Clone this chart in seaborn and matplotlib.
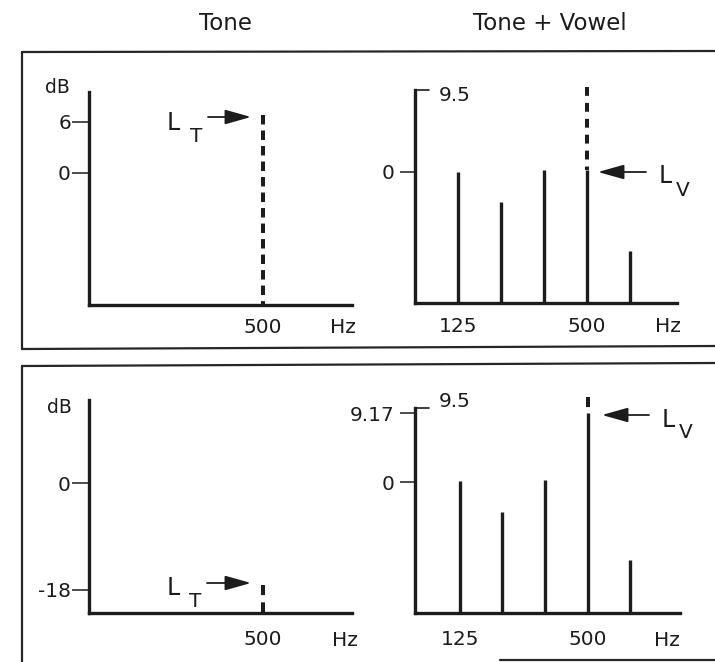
import matplotlib
matplotlib.use("Agg")
import matplotlib.pyplot as plt
import seaborn as sns
from matplotlib.lines import Line2D

sns.set_theme(style="white")
plt.rcParams['font.family'] = ['DejaVu Sans']
plt.rcParams['axes.unicode_minus'] = False

# ---------------- data ----------------
panel_titles = ["Tone", "Tone + Vowel"]
harmonic_freqs = [125, 250, 375, 500, 625]          # Hz
vowel_levels_top = [0.0, -3.5, 0.2, 0.2, -9.2]      # dB
vowel_levels_bottom = [0.1, -4.0, 0.3, 9.17, -10.3] # dB
tone_freq = 500                                     # Hz
tone_level_top = 6.8                                # dB (tone alone, top row)
tone_level_bottom = -17.2                           # dB (tone alone, bottom row)
tone_plus_vowel_top = 9.8                           # dB (dashed extension, top row)
tone_plus_vowel_bottom = 11.3                       # dB (dashed extension, bottom row)
yticks_tone_top = [0, 6]
yticks_tone_bottom = [-18, 0]
yticks_vowel_top = [0]
yticks_vowel_bottom = [0, 9.17]
ytick_labels_vowel_bottom = ["0", "9.17"]
xticks_tone = [500]
xticks_vowel = [125, 500]
axis_top_label = "9.5"

W, H = 715, 662
INK = "#1c1c1c"
fig = plt.figure(figsize=(W / 100, H / 100), dpi=100)
fig.patch.set_facecolor("white")


def px_rect(x0, y0, x1, y1):
    return [x0 / W, 1 - y1 / H, (x1 - x0) / W, (y1 - y0) / H]


def fp(x, y):
    return (x / W, 1 - y / H)


def style_axes(ax, ytick_len, ytick_pad, xpad):
    ax.set_facecolor("none")
    sns.despine(ax=ax, top=True, right=True)
    for s in ("left", "bottom"):
        ax.spines[s].set_linewidth(2.4)
        ax.spines[s].set_color(INK)
    ax.tick_params(axis="y", direction="out", length=ytick_len, width=1.1,
                   color=INK, pad=ytick_pad, labelsize=14.5, labelcolor=INK, left=True)
    ax.tick_params(axis="x", length=0, pad=xpad, labelsize=14.5, labelcolor=INK, bottom=True)
    ax.grid(False)


# ---------- axes ----------
ax_tl = fig.add_axes(px_rect(89, 92, 352, 305))
ax_tr = fig.add_axes(px_rect(415, 90, 677, 303))
ax_bl = fig.add_axes(px_rect(89, 400, 352, 613))
ax_br = fig.add_axes(px_rect(415, 408, 680, 613))

# Top-left: tone alone
ax_tl.set_xlim(0, 756)
ax_tl.set_ylim(-15.5, 9.5)
ax_tl.plot([tone_freq, tone_freq], [tone_level_top, -15.5], color=INK, lw=2.9,
           linestyle=(0, (2.35, 1.5)), solid_capstyle="butt", dash_capstyle="butt",
           clip_on=False)
ax_tl.set_yticks(yticks_tone_top)
ax_tl.set_xticks(xticks_tone)
style_axes(ax_tl, 12, 1, 9.5)

# Bottom-left: tone alone (lower level)
ax_bl.set_xlim(0, 756)
ax_bl.set_ylim(-21.9, 14.0)
ax_bl.plot([tone_freq, tone_freq], [tone_level_bottom, -21.9], color=INK, lw=2.9,
           linestyle=(0, (2.5, 1.8)), dash_capstyle="butt", clip_on=False)
ax_bl.set_yticks(yticks_tone_bottom)
ax_bl.set_xticks(xticks_tone)
style_axes(ax_bl, 12, 1, 12)

# Top-right: tone + vowel
ax_tr.set_xlim(0, 762)
ax_tr.set_ylim(-15.2, 9.5)
ax_tr.vlines(harmonic_freqs, -15.2, vowel_levels_top, color=INK, lw=2.4)
ax_tr.plot([tone_freq, tone_freq], [tone_plus_vowel_top, vowel_levels_top[3]], color=INK,
           lw=2.9, linestyle=(0, (2.2, 1.75)), dash_capstyle="butt", clip_on=False)
ax_tr.set_yticks(yticks_vowel_top)
ax_tr.set_xticks(xticks_vowel)
style_axes(ax_tr, 11, 3.5, 10)

# Bottom-right: tone + vowel
ax_br.set_xlim(-6, 771)
ax_br.set_ylim(-17.4, 9.84)
ax_br.vlines(harmonic_freqs, -17.4, vowel_levels_bottom, color=INK, lw=2.4)
ax_br.plot([tone_freq, tone_freq], [tone_plus_vowel_bottom, vowel_levels_bottom[3]],
           color=INK, lw=2.9, linestyle=(0, (2.5, 1.5)), dash_capstyle="butt",
           clip_on=False)
ax_br.set_yticks(yticks_vowel_bottom)
ax_br.set_yticklabels(ytick_labels_vowel_bottom)
ax_br.set_xticks(xticks_vowel)
style_axes(ax_br, 11, 3.5, 12)

# hook at top of vowel y-axes with "9.5"
for ax, width_px, dy in ((ax_tr, 262, -4), (ax_br, 265, 5)):
    ax.plot([0, 14 / width_px], [1, 1], transform=ax.transAxes, color=INK,
            lw=1.2, clip_on=False)
    ax.annotate(axis_top_label, xy=(0, 1), xycoords="axes fraction",
                xytext=(17, dy), textcoords="offset points",
                ha="left", va="center", fontsize=14.5, color=INK)

# ---------- panel frames ----------
frame_kw = dict(color="#262626", lw=1.6, transform=fig.transFigure)
for seg in [((22, 52), (715, 51)), ((22, 52), (22, 349)), ((22, 349), (715, 346)),
            ((22, 366), (715, 363)), ((22, 366), (22, 662)), ((500, 660), (715, 660))]:
    (x0, y0), (x1, y1) = seg
    fig.add_artist(Line2D([x0 / W, x1 / W], [1 - y0 / H, 1 - y1 / H], **frame_kw))

# ---------- texts ----------
fig.text(*fp(226, 30), panel_titles[0], ha="center", va="baseline", fontsize=16.5, color=INK)
fig.text(*fp(550, 30), panel_titles[1], ha="center", va="baseline", fontsize=16.5, color=INK)

fig.text(*fp(57, 93), "dB", ha="center", va="baseline", fontsize=13.5, color=INK)
fig.text(*fp(59, 413), "dB", ha="center", va="baseline", fontsize=13.5, color=INK)

for (x, y) in [(343, 333), (668, 332), (345, 646), (667, 646)]:
    fig.text(*fp(x, y), "Hz", ha="center", va="baseline", fontsize=14.5, color=INK)


def level_label(xl, yl, sub, xs, ys):
    fig.text(*fp(xl, yl), "L", ha="center", va="baseline", fontsize=17, color=INK)
    fig.text(*fp(xs, ys), sub, ha="center", va="baseline", fontsize=14.5, color=INK)


level_label(173, 130, "T", 196, 142)
level_label(173, 595, "T", 195, 607)
level_label(665, 183, "V", 683, 196)
level_label(668, 427, "V", 686, 438)

arrow_kw = dict(arrowstyle="-|>,head_length=1.6,head_width=0.45", color=INK, lw=1.3,
                shrinkA=0, shrinkB=0, mutation_scale=10)
for (tx, ty), (hx, hy) in [((208, 117), (251, 117)), ((207, 583), (251, 583)),
                           ((646, 172), (598, 172)), ((649, 415), (602, 415))]:
    fig.add_artist(matplotlib.patches.FancyArrowPatch(
        fp(tx, ty), fp(hx, hy), transform=fig.transFigure, **arrow_kw))

fig.savefig("out.png", dpi=100, facecolor="white")
